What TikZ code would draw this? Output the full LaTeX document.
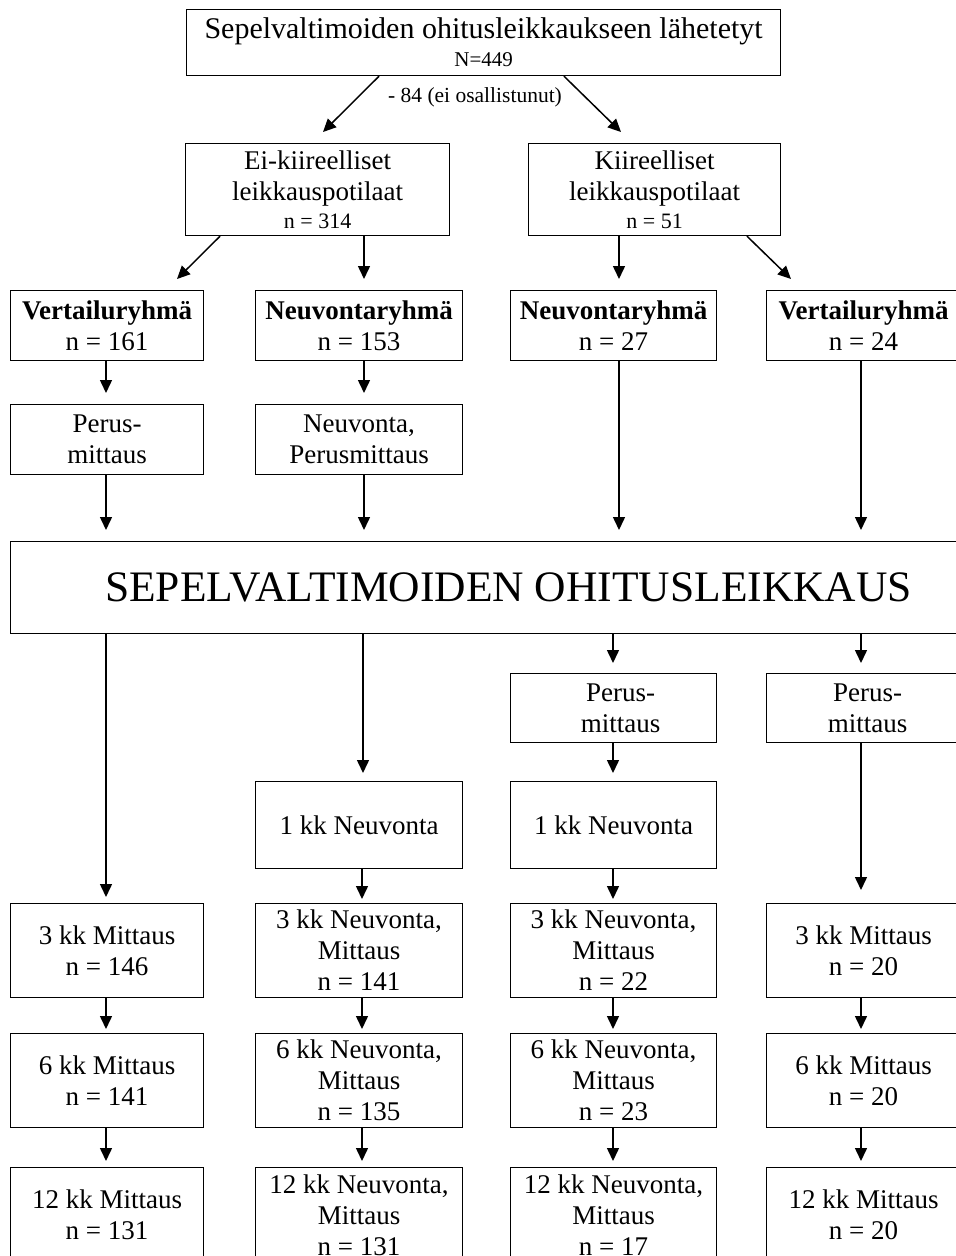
\documentclass[tikz,border=0pt]{standalone}
\usepackage{fontspec}
\setmainfont{Liberation Serif}
\usetikzlibrary{arrows.meta,calc}
\begin{document}
\begin{tikzpicture}[x=1pt,y=-1pt,
  box/.style={draw, line width=1.2pt, inner sep=0pt, align=center, anchor=north west},
  bodyfont/.style={font=\fontsize{27}{31}\selectfont},
  smallfont/.style={font=\fontsize{21.5}{24}\selectfont},
  arr/.style={line width=1.5pt, -{Triangle[length=13pt,width=12pt]}}]
\useasboundingbox (0,0) rectangle (956,1256);
% top
\node[box, minimum width=594pt, minimum height=66pt, font=\fontsize{30}{28}\selectfont] (T) at (186,9)
  {Sepelvaltimoiden ohitusleikkaukseen lähetetyt\\
   {\fontsize{21}{24}\selectfont N=449}};
\node[smallfont, inner sep=0pt] (L) at (475,97) {- 84 (ei osallistunut)};
% second level
\node[box, bodyfont, minimum width=264pt, minimum height=92pt] (E) at (185,143)
  {Ei-kiireelliset\\leikkauspotilaat\\[-3pt]{\fontsize{22}{24}\selectfont n = 314}};
\node[box, bodyfont, minimum width=252pt, minimum height=92pt] (K) at (528,143)
  {Kiireelliset\\leikkauspotilaat\\[-3pt]{\fontsize{22}{24}\selectfont n = 51}};
% third level
\node[box, bodyfont, minimum width=193pt, minimum height=70pt] (V1) at (10,290) {\textbf{Vertailuryhmä}\\n = 161};
\node[box, bodyfont, minimum width=207pt, minimum height=70pt] (N2) at (255,290) {\textbf{Neuvontaryhmä}\\n = 153};
\node[box, bodyfont, minimum width=206pt, minimum height=70pt] (N3) at (510,290) {\textbf{Neuvontaryhmä}\\n = 27};
\node[box, bodyfont, minimum width=194pt, minimum height=70pt] (V4) at (766,290) {\textbf{Vertailuryhmä}\\n = 24};
% fourth level
\node[box, bodyfont, minimum width=193pt, minimum height=70pt] (P1) at (10,404) {Perus-\\mittaus};
\node[box, bodyfont, minimum width=207pt, minimum height=70pt] (P2) at (255,404) {Neuvonta,\\Perusmittaus};
% big box
\node[box, minimum width=996pt, minimum height=92pt, font=\fontsize{43.5}{46}\selectfont] (B) at (10,541) {SEPELVALTIMOIDEN OHITUSLEIKKAUS};
% after surgery
\node[box, bodyfont, minimum width=206pt, minimum height=69pt] (P3) at (510,673) {\hspace*{14pt}Perus-\\\hspace*{14pt}mittaus};
\node[box, bodyfont, minimum width=194pt, minimum height=69pt] (P4) at (766,673) {\hspace*{8pt}Perus-\\\hspace*{8pt}mittaus};
\node[box, bodyfont, minimum width=207pt, minimum height=87pt] (K1b) at (255,781) {1 kk Neuvonta};
\node[box, bodyfont, minimum width=206pt, minimum height=87pt] (K1c) at (510,781) {1 kk Neuvonta};
% 3 kk
\node[box, bodyfont, minimum width=193pt, minimum height=94pt] (M3a) at (10,903) {3 kk Mittaus\\n = 146};
\node[box, bodyfont, minimum width=207pt, minimum height=94pt] (M3b) at (255,903) {3 kk Neuvonta,\\Mittaus\\n = 141};
\node[box, bodyfont, minimum width=206pt, minimum height=94pt] (M3c) at (510,903) {3 kk Neuvonta,\\Mittaus\\n = 22};
\node[box, bodyfont, minimum width=194pt, minimum height=94pt] (M3d) at (766,903) {3 kk Mittaus\\n = 20};
% 6 kk
\node[box, bodyfont, minimum width=193pt, minimum height=94pt] (M6a) at (10,1033) {6 kk Mittaus\\n = 141};
\node[box, bodyfont, minimum width=207pt, minimum height=94pt] (M6b) at (255,1033) {6 kk Neuvonta,\\Mittaus\\n = 135};
\node[box, bodyfont, minimum width=206pt, minimum height=94pt] (M6c) at (510,1033) {6 kk Neuvonta,\\Mittaus\\n = 23};
\node[box, bodyfont, minimum width=194pt, minimum height=94pt] (M6d) at (766,1033) {6 kk Mittaus\\n = 20};
% 12 kk
\node[box, bodyfont, minimum width=193pt, minimum height=95pt] (M12a) at (10,1167) {12 kk Mittaus\\n = 131};
\node[box, bodyfont, minimum width=207pt, minimum height=95pt] (M12b) at (255,1167) {12 kk Neuvonta,\\Mittaus\\n = 131};
\node[box, bodyfont, minimum width=206pt, minimum height=95pt] (M12c) at (510,1167) {12 kk Neuvonta,\\Mittaus\\n = 17};
\node[box, bodyfont, minimum width=194pt, minimum height=95pt] (M12d) at (766,1167) {12 kk Mittaus\\n = 20};
% arrows
\draw[arr] ($(T.south west)+(193,0)$) -- ($(E.north west)+(138,-11)$);
\draw[arr] ($(T.south west)+(378,0)$) -- ($(K.north west)+(93,-11)$);
\draw[arr] ($(E.south west)+(35,0)$) -- ($(V1.north west)+(167,-11)$);
\draw[arr] ($(E.south west)+(179,0)$) -- ($(N2.north west)+(109,-11)$);
\draw[arr] ($(K.south west)+(91,0)$) -- ($(N3.north west)+(109,-11)$);
\draw[arr] ($(K.south west)+(219,0)$) -- ($(V4.north west)+(25,-11)$);
\draw[arr] ($(V1.south west)+(96,0)$) -- ($(P1.north west)+(96,-11)$);
\draw[arr] ($(N2.south west)+(109,0)$) -- ($(P2.north west)+(109,-11)$);
\draw[arr] ($(P1.south west)+(96,0)$) -- ($(B.north west)+(96,-11)$);
\draw[arr] ($(P2.south west)+(109,0)$) -- ($(B.north west)+(354,-11)$);
\draw[arr] ($(N3.south west)+(109,0)$) -- ($(B.north west)+(609,-11)$);
\draw[arr] ($(V4.south west)+(95,0)$) -- ($(B.north west)+(851,-11)$);
\draw[arr] ($(B.south west)+(96,0)$) -- ($(M3a.north west)+(96,-6)$);
\draw[arr] ($(B.south west)+(353,0)$) -- ($(K1b.north west)+(108,-8)$);
\draw[arr] ($(B.south west)+(603,0)$) -- ($(P3.north west)+(103,-10)$);
\draw[arr] ($(B.south west)+(851,0)$) -- ($(P4.north west)+(95,-10)$);
\draw[arr] ($(P3.south west)+(103,0)$) -- ($(K1c.north west)+(103,-8)$);
\draw[arr] ($(P4.south west)+(95,0)$) -- ($(M3d.north west)+(95,-13)$);
\draw[arr] ($(K1b.south west)+(107,0)$) -- ($(M3b.north west)+(107,-4)$);
\draw[arr] ($(K1c.south west)+(103,0)$) -- ($(M3c.north west)+(103,-4)$);
\draw[arr] ($(M3a.south west)+(96,0)$) -- ($(M6a.north west)+(96,-4)$);
\draw[arr] ($(M3b.south west)+(107,0)$) -- ($(M6b.north west)+(107,-4)$);
\draw[arr] ($(M3c.south west)+(103,0)$) -- ($(M6c.north west)+(103,-4)$);
\draw[arr] ($(M3d.south west)+(95,0)$) -- ($(M6d.north west)+(95,-4)$);
\draw[arr] ($(M6a.south west)+(96,0)$) -- ($(M12a.north west)+(96,-6)$);
\draw[arr] ($(M6b.south west)+(107,0)$) -- ($(M12b.north west)+(107,-6)$);
\draw[arr] ($(M6c.south west)+(103,0)$) -- ($(M12c.north west)+(103,-6)$);
\draw[arr] ($(M6d.south west)+(95,0)$) -- ($(M12d.north west)+(95,-6)$);
\end{tikzpicture}
\end{document}
